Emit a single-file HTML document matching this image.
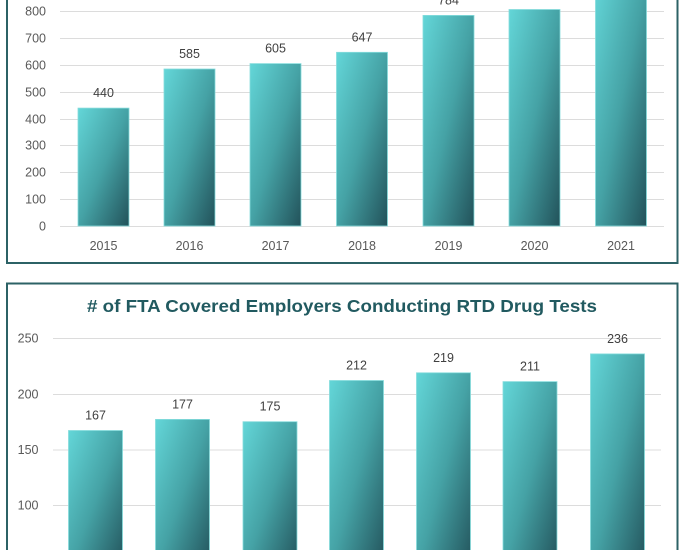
<!DOCTYPE html>
<html>
<head>
<meta charset="utf-8">
<style>
html,body{margin:0;padding:0;background:#fff;}
svg{display:block;}
text{font-family:"Liberation Sans",sans-serif;}
</style>
</head>
<body>
<svg width="690" height="550" viewBox="0 0 690 550" xmlns="http://www.w3.org/2000/svg">
<defs>
<linearGradient id="g" x1="0" y1="0" x2="1" y2="1">
<stop offset="0" stop-color="#63d6d8"/>
<stop offset="0.5" stop-color="#45a2a5"/>
<stop offset="1" stop-color="#22525a"/>
</linearGradient>
</defs>
<rect width="690" height="550" fill="#fff"/>

<!-- TOP PANEL -->
<path d="M7 -5 V263 H677.5 V-5" fill="none" stroke="#2c6266" stroke-width="2"/>
<g stroke="#dcdcdc" stroke-width="1">
<line x1="60" x2="664" y1="11.5" y2="11.5"/>
<line x1="60" x2="664" y1="38.5" y2="38.5"/>
<line x1="60" x2="664" y1="65.5" y2="65.5"/>
<line x1="60" x2="664" y1="92.5" y2="92.5"/>
<line x1="60" x2="664" y1="119.5" y2="119.5"/>
<line x1="60" x2="664" y1="145.5" y2="145.5"/>
<line x1="60" x2="664" y1="172.5" y2="172.5"/>
<line x1="60" x2="664" y1="199.5" y2="199.5"/>
<line x1="60" x2="664" y1="226.5" y2="226.5"/>
</g>
<g font-size="12.5" fill="#595959" text-anchor="end">
<text x="46" y="15.5">800</text>
<text x="46" y="42.5">700</text>
<text x="46" y="69.5">600</text>
<text x="46" y="96.5">500</text>
<text x="46" y="123.5">400</text>
<text x="46" y="149.5">300</text>
<text x="46" y="176.5">200</text>
<text x="46" y="203.5">100</text>
<text x="46" y="230.5">0</text>
</g>
<g fill="url(#g)" stroke="#86dcdc" stroke-width="0.8">
<rect x="78" y="108.1" width="51" height="117.9"/>
<rect x="164" y="69" width="51" height="157"/>
<rect x="250" y="63.6" width="51" height="162.4"/>
<rect x="336.5" y="52.3" width="51" height="173.7"/>
<rect x="423" y="15.4" width="51" height="210.6"/>
<rect x="509" y="9.5" width="51" height="216.5"/>
<rect x="595.5" y="-20" width="51" height="246"/>
</g>
<g font-size="12.5" fill="#404040" text-anchor="middle">
<text x="103.5" y="97">440</text>
<text x="189.5" y="58">585</text>
<text x="275.5" y="52.5">605</text>
<text x="362" y="41.3">647</text>
<text x="448.5" y="4.4">784</text>
</g>
<g font-size="12.5" fill="#595959" text-anchor="middle">
<text x="103.5" y="250">2015</text>
<text x="189.5" y="250">2016</text>
<text x="275.5" y="250">2017</text>
<text x="362" y="250">2018</text>
<text x="448.5" y="250">2019</text>
<text x="534.5" y="250">2020</text>
<text x="621" y="250">2021</text>
</g>

<!-- BOTTOM PANEL -->
<path d="M7 555 V283.5 H677.5 V555" fill="none" stroke="#2c6266" stroke-width="2"/>
<text x="87" y="312" font-size="17.5" font-weight="bold" fill="#215a60" textLength="510" lengthAdjust="spacingAndGlyphs">#&#160;of FTA Covered Employers Conducting RTD Drug Tests</text>
<g stroke="#dcdcdc" stroke-width="1">
<line x1="53" x2="661" y1="338.5" y2="338.5"/>
<line x1="53" x2="661" y1="394.5" y2="394.5"/>
<line x1="53" x2="661" y1="450" y2="450"/>
<line x1="53" x2="661" y1="505.5" y2="505.5"/>
</g>
<g font-size="12.5" fill="#595959" text-anchor="end">
<text x="38.5" y="342.5">250</text>
<text x="38.5" y="398.5">200</text>
<text x="38.5" y="454">150</text>
<text x="38.5" y="509.5">100</text>
</g>
<g fill="url(#g)" stroke="#86dcdc" stroke-width="0.8">
<rect x="68.5" y="430.5" width="54" height="140"/>
<rect x="155.5" y="419.4" width="54" height="150"/>
<rect x="243" y="421.7" width="54" height="150"/>
<rect x="329.5" y="380.5" width="54" height="190"/>
<rect x="416.5" y="372.8" width="54" height="200"/>
<rect x="503" y="381.6" width="54" height="190"/>
<rect x="590.5" y="353.9" width="54" height="220"/>
</g>
<g font-size="12.5" fill="#404040" text-anchor="middle">
<text x="95.5" y="419.5">167</text>
<text x="182.5" y="408.5">177</text>
<text x="270" y="410.5">175</text>
<text x="356.5" y="369.5">212</text>
<text x="443.5" y="362">219</text>
<text x="530" y="370.5">211</text>
<text x="617.5" y="343">236</text>
</g>
</svg>
</body>
</html>
